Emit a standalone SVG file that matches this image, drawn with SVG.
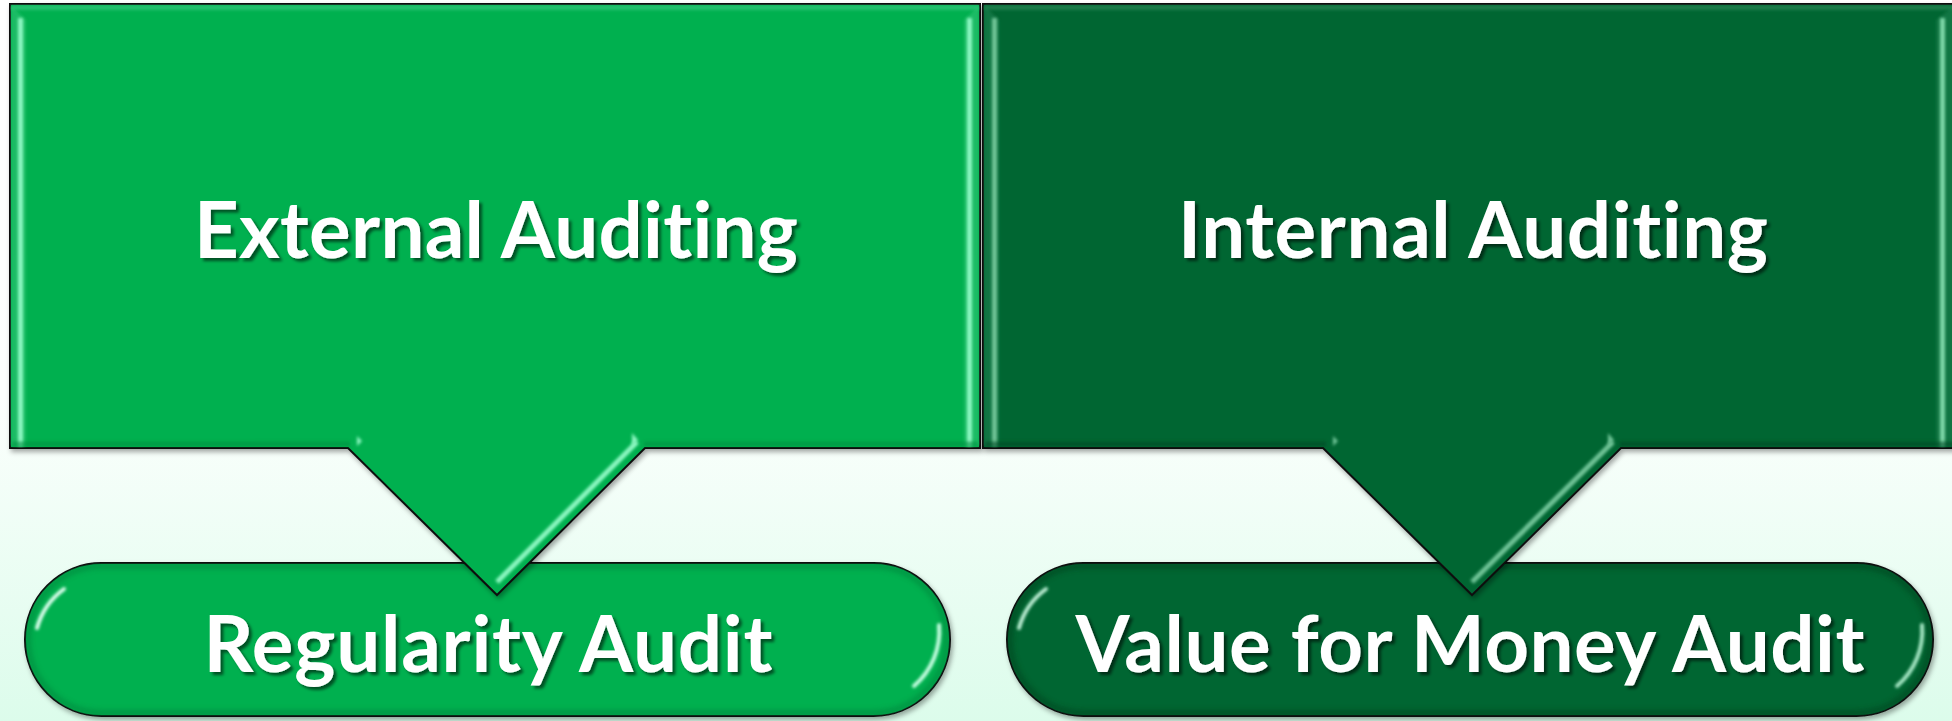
<svg xmlns="http://www.w3.org/2000/svg" width="1952" height="721" viewBox="0 0 1952 721">
  <defs>
    <linearGradient id="bg" x1="0" y1="0" x2="0" y2="1">
      <stop offset="0" stop-color="#FFFFFF"/>
      <stop offset="0.55" stop-color="#FCFFFD"/>
      <stop offset="1" stop-color="#DCFCEB"/>
    </linearGradient>
    <filter id="shadow" x="-5%" y="-5%" width="110%" height="115%">
      <feDropShadow dx="2" dy="3" stdDeviation="2.5" flood-color="#000" flood-opacity="0.35"/>
    </filter>
    <filter id="txtshadow" x="-5%" y="-20%" width="110%" height="140%">
      <feDropShadow dx="3" dy="3" stdDeviation="1.8" flood-color="#000" flood-opacity="0.55"/>
    </filter>
    <filter id="soft" filterUnits="userSpaceOnUse" x="0" y="0" width="1952" height="721">
      <feGaussianBlur stdDeviation="1.4"/>
    </filter>
    <filter id="soft2" filterUnits="userSpaceOnUse" x="0" y="0" width="1952" height="721">
      <feGaussianBlur stdDeviation="2.5"/>
    </filter>
    <clipPath id="clipL"><path d="M10,4 H980 V448 H645 L497,595 L348,448 H10 Z"/></clipPath>
    <clipPath id="clipR"><path d="M983,4 H1957 V448 H1621 L1472,595 L1323,448 H983 Z"/></clipPath>
    <clipPath id="clipPL"><rect x="25" y="563" width="925" height="153" rx="76.5"/></clipPath>
    <clipPath id="clipPR"><rect x="1007" y="563" width="926" height="153" rx="76.5"/></clipPath>
  </defs>
  <style>
    .edge { stroke: #111; stroke-width: 2; stroke-linejoin: miter; }
    .light { fill: #00B050; }
    .dark { fill: #006633; }
    .hlL { stroke: #8DF8C2; fill: none; }
    .hlR { stroke: #6FC497; fill: none; }
    .lbl { font-family: Lato, "Open Sans", "Liberation Sans", sans-serif; font-weight: 700; font-size: 78px; fill: #FFFFFF; text-anchor: middle; font-variant-ligatures: none; font-feature-settings: "liga" 0, "clig" 0; }
  </style>

  <rect x="0" y="0" width="1952" height="721" fill="url(#bg)"/>

  <g id="connectors"></g>

  <!-- Pill nodes (drawn first, callouts overlap them) -->
  <g id="node-regularity-audit">
    <rect x="25" y="563" width="925" height="153" rx="76.5" class="light edge" filter="url(#shadow)"/>
    <g clip-path="url(#clipPL)">
      <rect x="28" y="566" width="919" height="147" rx="73.5" fill="none" stroke="#00803A" stroke-width="6" opacity="0.5" filter="url(#soft2)"/>
      <path d="M37,628 A72,72 0 0 1 64,589" fill="none" stroke="#DFFFEF" stroke-width="4" stroke-linecap="round" filter="url(#soft)"/>
      <path d="M939,625 A72,72 0 0 1 914,686" fill="none" stroke="#C8FFE3" stroke-width="4" stroke-linecap="round" filter="url(#soft)"/>
    </g>
    <text x="488" y="672" class="lbl" textLength="569" filter="url(#txtshadow)">Regularity Audit</text>
  </g>

  <g id="node-value-for-money-audit">
    <rect x="1007" y="563" width="926" height="153" rx="76.5" class="dark edge" filter="url(#shadow)"/>
    <g clip-path="url(#clipPR)">
      <rect x="1010" y="566" width="920" height="147" rx="73.5" fill="none" stroke="#003F1F" stroke-width="6" opacity="0.5" filter="url(#soft2)"/>
      <path d="M1019,628 A72,72 0 0 1 1046,589" fill="none" stroke="#BFF0D6" stroke-width="4" stroke-linecap="round" filter="url(#soft)"/>
      <path d="M1922,625 A72,72 0 0 1 1897,686" fill="none" stroke="#A8E8C6" stroke-width="4" stroke-linecap="round" filter="url(#soft)"/>
    </g>
    <text x="1470" y="672" class="lbl" textLength="789" filter="url(#txtshadow)">Value for Money Audit</text>
  </g>

  <!-- Callout box nodes -->
  <g id="node-external-auditing">
    <path d="M10,4 H980 V448 H645 L497,595 L348,448 H10 Z" class="light edge" filter="url(#shadow)"/>
    <g clip-path="url(#clipL)">
      <rect x="11" y="5" width="968" height="5" fill="#3FCB86" opacity="0.6" filter="url(#soft)"/>
      <path d="M11,5 L26,20 L26,446 L11,446 Z" fill="#2FC474" opacity="0.6" filter="url(#soft)"/>
      <path d="M979,5 L964,20 L964,446 L979,446 Z" fill="#2FC474" opacity="0.6" filter="url(#soft)"/>
      <rect x="18" y="18" width="5" height="428" fill="#8DF8C2" filter="url(#soft)"/>
      <rect x="967" y="18" width="5" height="428" fill="#8DF8C2" filter="url(#soft)"/>
      <path d="M12,444 H350 M644,444 H978" stroke="#00913F" stroke-width="5" opacity="0.6" filter="url(#soft)"/>
      <path d="M637,442 L497,582" class="hlL" stroke-width="5" filter="url(#soft)"/>
      <path d="M357,436 L362,441 L357,446 Z M632,433 L638,440 L632,446 Z" fill="#8DF8C2" filter="url(#soft)"/>
    </g>
    <text x="496" y="258" class="lbl" textLength="604" filter="url(#txtshadow)">External Auditing</text>
  </g>

  <g id="node-internal-auditing">
    <path d="M983,4 H1957 V448 H1621 L1472,595 L1323,448 H983 Z" class="dark edge" filter="url(#shadow)"/>
    <g clip-path="url(#clipR)">
      <rect x="984" y="5" width="972" height="5" fill="#2E8A5A" opacity="0.6" filter="url(#soft)"/>
      <path d="M984,5 L999,20 L999,446 L984,446 Z" fill="#1E8050" opacity="0.6" filter="url(#soft)"/>
      <path d="M1955,5 L1936,20 L1936,446 L1955,446 Z" fill="#1E8050" opacity="0.6" filter="url(#soft)"/>
      <rect x="992" y="18" width="5" height="428" fill="#6FC497" filter="url(#soft)"/>
      <rect x="1940" y="18" width="5" height="428" fill="#7ED8A8" filter="url(#soft)"/>
      <path d="M985,444 H1326 M1620,444 H1955" stroke="#004A25" stroke-width="5" opacity="0.6" filter="url(#soft)"/>
      <path d="M1613,442 L1472,582" class="hlR" stroke-width="5" filter="url(#soft)"/>
      <path d="M1333,436 L1338,441 L1333,446 Z M1608,433 L1614,440 L1608,446 Z" fill="#6FC497" filter="url(#soft)"/>
    </g>
    <text x="1473" y="258" class="lbl" textLength="590" filter="url(#txtshadow)">Internal Auditing</text>
  </g>
</svg>
